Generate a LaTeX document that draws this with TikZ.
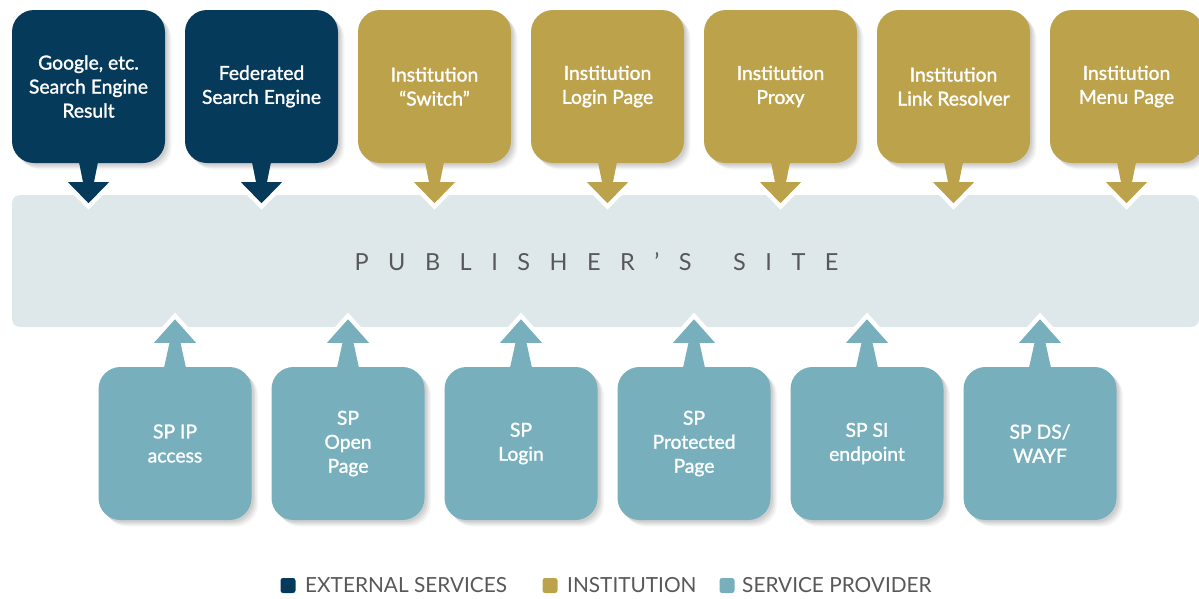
\documentclass[tikz,border=0pt]{standalone}
\usepackage{fontspec}
\setmainfont{Lato}
\newfontfamily\cardfont{Lato}[FakeBold=1.4]
\definecolor{extnavy}{HTML}{053A5B}
\definecolor{instgold}{HTML}{BDA24C}
\definecolor{spteal}{HTML}{77AFBC}
\definecolor{sitebg}{HTML}{DEE8EA}
\definecolor{labelgrey}{HTML}{58585A}

% letter-spaced caps for the site banner
\newcommand{\ls}{\kern 19.5pt}

\begin{document}
\begin{tikzpicture}[x=1pt,y=-1pt,
  card/.style={rounded corners=22pt, minimum width=153pt, minimum height=153pt,
    inner sep=0pt, align=center, text=white,
    font=\cardfont\fontsize{19.3}{24}\selectfont,
    preaction={fill=black, opacity=0.06, transform canvas={shift={(2pt,-2pt)}}},
    preaction={fill=black, opacity=0.06, transform canvas={shift={(3.5pt,-3.5pt)}}},
    preaction={fill=black, opacity=0.05, transform canvas={shift={(5pt,-5pt)}}},
    preaction={fill=black, opacity=0.04, transform canvas={shift={(6.5pt,-6.5pt)}}}},
  keybox/.style={rounded corners=2.5pt, minimum width=15pt, minimum height=15pt, inner sep=0pt},
  keytext/.style={text=labelgrey, font=\fontsize{20.8}{22}\selectfont, inner sep=0pt, anchor=west},
  halo/.style={draw=white, line width=9pt, line join=miter, miter limit=10},
]
\useasboundingbox (0,0) rectangle (1199,598);

% central banner
\node[fill=sitebg, rounded corners=8pt, minimum width=1187pt, minimum height=132pt, inner sep=0pt] (site) at (605.5,261) {};
\node[text=labelgrey, font=\fontsize{23.5}{24}\selectfont, inner sep=0pt] (sitelabel) at (596.5,262)
  {P\ls U\ls B\ls L\ls I\ls S\ls H\ls E\ls R\ls ’\ls S\hspace{22pt}\ls S\ls I\ls T\ls E};

% upper row: external services and institution
\node[card, fill=extnavy]  (t1) at (88.5,86.5)  {Google, etc.\\Search Engine\\Result};
\node[card, fill=extnavy]  (t2) at (261.5,86.5) {Federated\\Search Engine};
\node[card, fill=instgold] (t3) at (434.5,86.5) {Institution\\“Switch”};
\node[card, fill=instgold] (t4) at (607.5,86.5) {Institution\\Login Page};
\node[card, fill=instgold] (t5) at (780.5,86.5) {Institution\\Proxy};
\node[card, fill=instgold] (t6) at (953.5,86.5) {Institution\\Link Resolver};
\node[card, fill=instgold] (t7) at (1126.5,86.5) {Institution\\Menu Page};

% lower row: service provider
\node[card, fill=spteal] (b1) at (175,443.5)  {SP IP\\access};
\node[card, fill=spteal] (b2) at (348,443.5)  {SP\\Open\\Page};
\node[card, fill=spteal] (b3) at (521,443.5)  {SP\\Login};
\node[card, fill=spteal] (b4) at (694,443.5)  {SP\\Protected\\Page};
\node[card, fill=spteal] (b5) at (867,443.5)  {SP SI\\endpoint};
\node[card, fill=spteal] (b6) at (1040,443.5) {SP DS/\\WAYF};

% downward connectors into the banner
\foreach \n/\c in {t1/extnavy,t2/extnavy,t3/instgold,t4/instgold,t5/instgold,t6/instgold,t7/instgold}{
  \path[halo] (\n.south) ++(-20.5,19) -- ++(20.5,21) -- ++(20.5,-21) -- cycle;
  \fill[\c] (\n.south) ++(-9.5,-1) -- ++(4,20) -- ++(-15,0) -- ++(20.5,21)
    -- ++(20.5,-21) -- ++(-15,0) -- ++(4,-20) -- cycle;
}

% upward connectors into the banner
\foreach \n in {b1,b2,b3,b4,b5,b6}{
  \path[halo] (\n.north) ++(-21,-24) -- ++(21,-23.5) -- ++(21,23.5) -- cycle;
  \fill[spteal] (\n.north) ++(-11,1) -- ++(5.5,-25) -- ++(-15.5,0) -- ++(21,-23.5)
    -- ++(21,23.5) -- ++(-15.5,0) -- ++(5.5,25) -- cycle;
}

% legend
\node[keybox, fill=extnavy]  (k1) at (288,585.5) {};
\node[keytext] (k1t) at (305,585.5) {EXTERNAL SERVICES};
\node[keybox, fill=instgold] (k2) at (550,585.5) {};
\node[keytext] (k2t) at (567,585.5) {INSTITUTION};
\node[keybox, fill=spteal]   (k3) at (727,585.5) {};
\node[keytext] (k3t) at (742,585.5) {SERVICE PROVIDER};
\end{tikzpicture}
\end{document}
